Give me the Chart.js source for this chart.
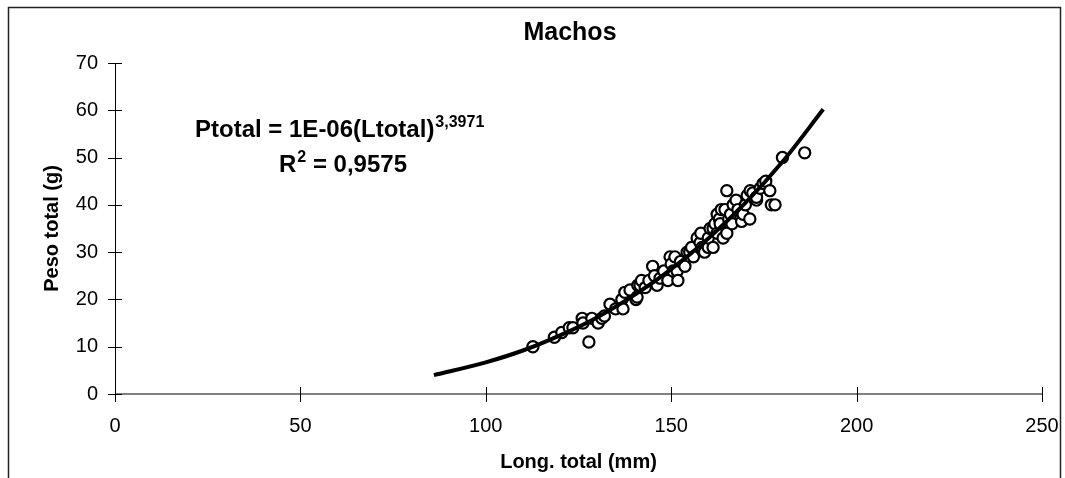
<!DOCTYPE html>
<html>
<head>
<meta charset="utf-8">
<title>Machos</title>
<script src="https://cdn.jsdelivr.net/npm/chart.js@4/dist/chart.umd.min.js"></script>
<style>
  body { margin: 0; background: #fff; }
  canvas { display: block; }
</style>
</head>
<body>
<canvas id="chart" width="1065" height="478"></canvas>
<script>
// Longitud total (mm) vs peso total (g), machos
const lengths = [
  112.7, 118.5, 120.5, 122.5, 123.5, 126, 126.2, 127.8, 128.6, 130.3,
  131.3, 132, 133.5, 135, 136.7, 137, 137.5, 138.9, 140.5, 140.8,
  141, 141.6, 142, 143, 144, 145, 145.5, 146.2, 147, 148,
  149.1, 149.7, 150, 150.5, 151, 151.6, 151.8, 152.5, 153.7, 154.3,
  155, 155.5, 156, 157, 157.8, 158, 158.3, 159, 160, 160,
  160.5, 161.3, 161.3, 161.8, 162.4, 162.4, 163, 163.2, 163.5, 164,
  164.5, 165, 165, 165.5, 166, 166.4, 166.7, 167.5, 168, 169,
  169.4, 170, 170.5, 171.2, 171.3, 172, 173, 173, 174, 174.8,
  175.5, 176.6, 177, 178, 180, 186
];
const weights = [
  10, 12, 13, 14, 14, 16, 15, 11, 16, 15,
  16, 16.5, 19, 18, 20, 18, 21.5, 22, 20, 20.5,
  23, 23, 24, 22.5, 24, 27, 25, 23, 24.5, 26,
  24, 29, 27.5, 26, 29, 26, 24, 28, 27, 30,
  30, 31, 29, 33, 32, 34, 31, 30, 31, 33,
  35, 35, 31, 36, 34, 38, 37, 36, 39, 33,
  39, 34, 43, 37, 38, 36, 40, 41, 39, 36.5,
  38, 40, 42, 37, 43, 42.5, 41, 41.6, 43.5, 44.5,
  45, 43, 40, 40, 50, 51
];

// potential trend line
const trendX = [86, 100, 110, 120, 130, 140, 150, 160, 170, 180, 191];
const trendY = [4.0, 6.7, 9.2, 12.4, 16.2, 20.9, 26.4, 32.9, 40.4, 49.1, 60.2];

const xTicks = [0, 50, 100, 150, 200, 250];
const yTicks = [0, 10, 20, 30, 40, 50, 60, 70];

const scatterPoints = lengths.map((l, i) => ({ x: l, y: weights[i] }));
const trendPoints = trendX.map((l, i) => ({ x: l, y: trendY[i] }));

// frame, axes, crossing ticks, title and equation text
const decorations = {
  id: "decorations",
  beforeDatasetsDraw(chart) {
    const { ctx, chartArea: a, scales: { x, y } } = chart;
    ctx.save();
    // outer frame
    ctx.strokeStyle = "#222";
    ctx.lineWidth = 1.5;
    ctx.beginPath();
    ctx.moveTo(8.5, 490);
    ctx.lineTo(8.5, 7.5);
    ctx.lineTo(1060.5, 7.5);
    ctx.lineTo(1060.5, 490);
    ctx.stroke();

    // x axis (gray) and its ticks
    ctx.strokeStyle = "#808080";
    ctx.lineWidth = 2;
    ctx.beginPath();
    ctx.moveTo(a.left, a.bottom);
    ctx.lineTo(a.right, a.bottom);
    ctx.stroke();

    ctx.strokeStyle = "#000";
    ctx.lineWidth = 1;
    ctx.beginPath();
    xTicks.forEach(v => {
      const px = Math.round(x.getPixelForValue(v)) + 0.5;
      ctx.moveTo(px, a.bottom - 7);
      ctx.lineTo(px, a.bottom + 8);
    });
    // y axis and its ticks
    const ax = Math.round(a.left) + 0.5;
    ctx.moveTo(ax, a.top);
    ctx.lineTo(ax, a.bottom);
    yTicks.forEach(v => {
      const py = Math.round(y.getPixelForValue(v)) + 0.5;
      ctx.moveTo(a.left - 7, py);
      ctx.lineTo(a.left + 7, py);
    });
    ctx.stroke();
    ctx.restore();
  },
  afterDraw(chart) {
    const { ctx } = chart;
    ctx.save();
    ctx.fillStyle = "#000";
    ctx.textBaseline = "alphabetic";

    ctx.font = "bold 25px Arial, 'Liberation Sans', sans-serif";
    ctx.textAlign = "center";
    ctx.fillText("Machos", 570, 40);

    ctx.textAlign = "left";
    const big = "bold 24px Arial, 'Liberation Sans', sans-serif";
    const small = "bold 16px Arial, 'Liberation Sans', sans-serif";

    let tx = 195;
    ctx.font = big;
    const eq = "Ptotal = 1E-06(Ltotal)";
    ctx.fillText(eq, tx, 137);
    tx += ctx.measureText(eq).width;
    ctx.font = small;
    ctx.fillText("3,3971", tx + 1, 127);

    tx = 279;
    ctx.font = big;
    ctx.fillText("R", tx, 172);
    tx += ctx.measureText("R").width;
    ctx.font = small;
    ctx.fillText("2", tx + 1, 162);
    tx += ctx.measureText("2").width + 1;
    ctx.font = big;
    ctx.fillText(" = 0,9575", tx, 172);
    ctx.restore();
  }
};

new Chart(document.getElementById("chart"), {
  type: "scatter",
  data: {
    datasets: [
      {
        label: "Tendencia",
        type: "line",
        data: trendPoints,
        borderColor: "#000",
        borderWidth: 4,
        pointRadius: 0,
        fill: false,
        cubicInterpolationMode: "monotone",
        order: 0
      },
      {
        label: "Machos",
        data: scatterPoints,
        pointRadius: 5.6,
        pointBorderWidth: 2.2,
        pointBackgroundColor: "#fff",
        pointBorderColor: "#000",
        order: 1
      }
    ]
  },
  options: {
    responsive: false,
    animation: false,
    devicePixelRatio: 1,
    layout: { padding: { left: 30, top: 63, right: 23, bottom: 0 } },
    plugins: {
      legend: { display: false },
      tooltip: { enabled: false },
      title: { display: false }
    },
    scales: {
      x: {
        type: "linear",
        min: 0,
        max: 250,
        afterFit: s => {
          s.height = 84;
          s.paddingLeft = 0;
          s.paddingRight = 0;
        },
        afterBuildTicks: s => { s.ticks = xTicks.map(v => ({ value: v })); },
        grid: { display: false },
        border: { display: false },
        ticks: {
          color: "#000",
          padding: 12,
          maxRotation: 0,
          font: { family: "Arial, 'Liberation Sans', sans-serif", size: 20 }
        },
        title: {
          display: true,
          text: "Long. total (mm)",
          color: "#000",
          padding: { top: 0, bottom: 4 },
          font: { family: "Arial, 'Liberation Sans', sans-serif", size: 20, weight: "bold" }
        }
      },
      y: {
        min: 0,
        max: 70,
        afterFit: s => {
          s.width = 85;
          s.paddingTop = 0;
          s.paddingBottom = 0;
        },
        afterBuildTicks: s => { s.ticks = yTicks.map(v => ({ value: v })); },
        grid: { display: false },
        border: { display: false },
        ticks: {
          color: "#000",
          padding: 9,
          font: { family: "Arial, 'Liberation Sans', sans-serif", size: 20 }
        },
        title: {
          display: true,
          text: "Peso total (g)",
          color: "#000",
          padding: { top: 10, bottom: 0 },
          font: { family: "Arial, 'Liberation Sans', sans-serif", size: 20, weight: "bold" }
        }
      }
    }
  },
  plugins: [decorations]
});
</script>
</body>
</html>
